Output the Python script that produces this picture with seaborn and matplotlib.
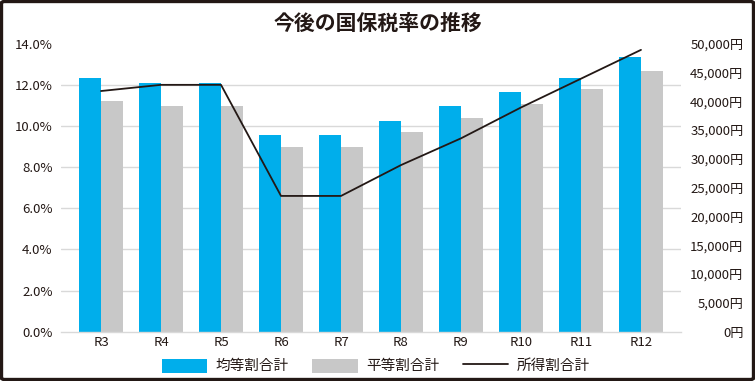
import numpy as np
import pandas as pd
import matplotlib
matplotlib.use("Agg")
import matplotlib.pyplot as plt
from matplotlib.ticker import FixedLocator, FuncFormatter
from matplotlib.patches import FancyBboxPatch
from matplotlib.lines import Line2D
from matplotlib.patches import Patch
import seaborn as sns

# ---- data ----
periods = ["R3", "R4", "R5", "R6", "R7", "R8", "R9", "R10", "R11", "R12"]
kintou = [44000, 43200, 43200, 34100, 34100, 36600, 39200, 41600, 44000, 47700]   # 均等割合計 (円)
byoudou = [40000, 39200, 39200, 32000, 32000, 34700, 37100, 39500, 42100, 45300]  # 平等割合計 (円)
shotoku = [11.7, 12.0, 12.0, 6.6, 6.6, 8.1, 9.4, 10.9, 12.3, 13.7]                # 所得割合計 (%)
pct_ticks = [0, 2, 4, 6, 8, 10, 12, 14]
yen_ticks = [0, 5000, 10000, 15000, 20000, 25000, 30000, 35000, 40000, 45000, 50000]
series_names = ["均等割合計", "平等割合計", "所得割合計"]

BLUE = "#00AEEB"
GRAY = "#C8C8C8"
DARK = "#231815"

sns.set_theme(style="white")
plt.rcParams["font.family"] = ["Noto Sans CJK JP", "DejaVu Sans"]
plt.rcParams["text.color"] = DARK

fig = plt.figure(figsize=(7.55, 3.81), dpi=100)
W, H = 755, 381
ax = fig.add_axes([61 / W, 1 - 331.7 / H, 620 / W, 288 / H])

df = pd.DataFrame({
    "period": periods * 2,
    "value": kintou + byoudou,
    "series": [series_names[0]] * len(periods) + [series_names[1]] * len(periods),
})
sns.barplot(data=df, x="period", y="value", hue="series", order=periods,
            hue_order=series_names[:2], palette=[BLUE, GRAY], saturation=1,
            width=0.733, ax=ax, legend=False, linewidth=0)

ax2 = ax.twinx()
sns.pointplot(x=periods, y=shotoku, ax=ax2, color=DARK, markers="", linewidth=1.3,
              errorbar=None)

# right axis: yen (bars)
ymax_yen = 50000
ax.set_ylim(0, ymax_yen)
ax.yaxis.tick_right()
ax.set_yticks(yen_ticks)
ax.yaxis.set_major_formatter(FuncFormatter(lambda v, p: f"{int(v):,}円"))
ax.yaxis.set_minor_locator(FixedLocator([t / 14 * ymax_yen for t in pct_ticks]))
ax.grid(axis="y", which="minor", color="#D9D9D9", linewidth=1.0)
ax.grid(axis="y", which="major", visible=False)
ax.set_axisbelow(True)
ax.tick_params(axis="y", which="both", length=0, pad=45, labelsize=9.5, colors=DARK)
for lab in ax.get_yticklabels():
    lab.set_horizontalalignment("right")
ax.tick_params(axis="x", length=0, pad=3, labelsize=9.5, colors=DARK)
ax.set_xlabel("")
ax.set_ylabel("")
for s in ["top", "left", "right"]:
    ax.spines[s].set_visible(False)
ax.spines["bottom"].set_color("#D9D9D9")
ax.spines["bottom"].set_linewidth(1.0)

# left axis: percent (line)
ax2.set_ylim(0, 14)
ax2.yaxis.tick_left()
ax2.set_yticks(pct_ticks)
ax2.yaxis.set_major_formatter(FuncFormatter(lambda v, p: f"{v:.1f}%"))
ax2.tick_params(axis="y", length=0, pad=6, labelsize=9.5, colors=DARK)
ax2.set_ylabel("")
ax2.grid(False)
for s in ax2.spines.values():
    s.set_visible(False)

ax.set_xlim(-0.667, len(periods) - 1 + 0.667)
ax2.set_xlim(-0.667, len(periods) - 1 + 0.667)
ax.set_xticks(range(len(periods)))
ax.set_xticklabels(periods)

fig.suptitle("今後の国保税率の推移", x=0.5, y=1 - 23 / H, va="center",
             fontsize=15, fontweight="bold", color=DARK)

handles = [Patch(facecolor=BLUE, edgecolor="none"),
           Patch(facecolor=GRAY, edgecolor="none"),
           Line2D([0], [0], color=DARK, linewidth=1.3)]
fig.legend(handles, series_names, loc="center", bbox_to_anchor=(376 / W, 1 - 366 / H),
           ncol=3, frameon=False, fontsize=10.5, handlelength=3.1, handleheight=1.1,
           columnspacing=1.6, handletextpad=0.6)

border = FancyBboxPatch((1.5 / W, 1.5 / H), 1 - 3 / W, 1 - 3 / H,
                        boxstyle="round,pad=0,rounding_size=0.004",
                        transform=fig.transFigure, fill=False, edgecolor=DARK,
                        linewidth=2.4)
fig.add_artist(border)

fig.savefig("out.png", dpi=100)
